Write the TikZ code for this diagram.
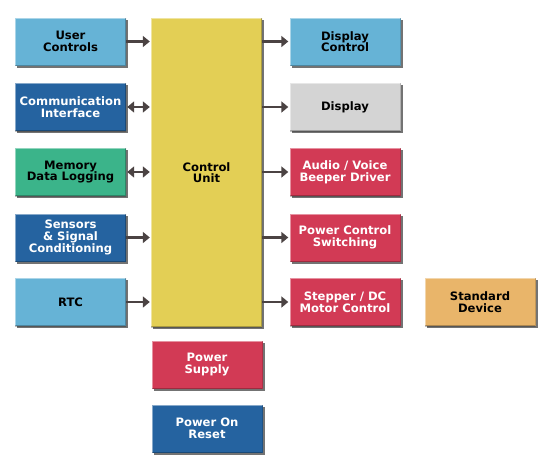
\documentclass[tikz,border=0pt]{standalone}
\usepackage{fontspec}
\setsansfont{DejaVu Sans}
\usetikzlibrary{positioning, arrows.meta, shadows}
\definecolor{lightblue}{HTML}{66B3D6}
\definecolor{darkblue}{HTML}{2563A0}
\definecolor{seagreen}{HTML}{3BB48A}
\definecolor{ctrlyellow}{HTML}{E3CF55}
\definecolor{lightgray}{HTML}{D4D4D4}
\definecolor{alertred}{HTML}{D23A55}
\definecolor{sandorange}{HTML}{E9B56A}
\definecolor{arrowgray}{HTML}{4B4343}
\tikzset{
x=1pt, y=-1pt, % pixel-like units, y grows downwards
box/.style={rectangle, minimum width=111pt, minimum height=48pt, inner sep=2pt, align=center,
  font=\sffamily\bfseries\fontsize{11.6}{11.6}\selectfont,
  general shadow={fill=black!55, shadow xshift=2pt, shadow yshift=-2pt},
  path picture={\draw[white, opacity=.45, line width=2pt]
    (path picture bounding box.south west) -- (path picture bounding box.north west)
    -- (path picture bounding box.north east);
    \draw[black, opacity=.25, line width=2pt]
    (path picture bounding box.north east) -- (path picture bounding box.south east)
    -- (path picture bounding box.south west);}}, % bevelled block
link/.style={-{Triangle[length=7pt,width=11pt]}, line width=2.5pt, draw=arrowgray, shorten >=1pt}, % one way
duplex/.style={{Triangle[length=7pt,width=11pt]}-{Triangle[length=7pt,width=11pt]}, line width=2.5pt, draw=arrowgray, shorten >=1pt, shorten <=1pt}, % both ways
}
\begin{document}
\begin{tikzpicture}
    \useasboundingbox (0,0) rectangle (550,469);
    \node[box, fill=ctrlyellow, minimum height=309pt] at (206.5,172.5) (cu) {Control\\Unit};
    \node[box, fill=lightblue] at (70.5,41.5) (uc) {User\\Controls};
    \node[box, fill=darkblue, text=white] at (70.5,107) (ci) {Communication\\Interface};
    \node[box, fill=seagreen] at (70.5,172) (mem) {Memory\\Data Logging};
    \node[box, fill=darkblue, text=white] at (70.5,237.5) (sen) {Sensors\\\& Signal\\Conditioning};
    \node[box, fill=lightblue] at (70.5,302) (rtc) {RTC};
    \node[box, fill=lightblue] at (345,41.5) (dc) {Display\\Control};
    \node[box, fill=lightgray] at (345,107) (disp) {Display};
    \node[box, fill=alertred, text=white] at (345,172) (aud) {Audio / Voice\\Beeper Driver};
    \node[box, fill=alertred, text=white] at (345,237.5) (pcs) {Power Control\\Switching};
    \node[box, fill=alertred, text=white] at (345,302) (mot) {Stepper / DC\\Motor Control};
    \node[box, fill=sandorange] at (480,302) (std) {Standard\\Device};
    \node[box, fill=alertred, text=white] at (207,364.5) (ps) {Power\\Supply};
    \node[box, fill=darkblue, text=white] at (207,428.5) (por) {Power On\\Reset};
    \draw[link] (uc) -- (uc -| cu.west);
    \draw[duplex] (ci) -- (ci -| cu.west);
    \draw[duplex] (mem) -- (mem -| cu.west);
    \draw[link] (sen) -- (sen -| cu.west);
    \draw[link] (rtc) -- (rtc -| cu.west);
    \draw[link] (dc -| cu.east) -- (dc);
    \draw[link] (disp -| cu.east) -- (disp);
    \draw[link] (aud -| cu.east) -- (aud);
    \draw[link] (pcs -| cu.east) -- (pcs);
    \draw[link] (mot -| cu.east) -- (mot);
\end{tikzpicture}
\end{document}
